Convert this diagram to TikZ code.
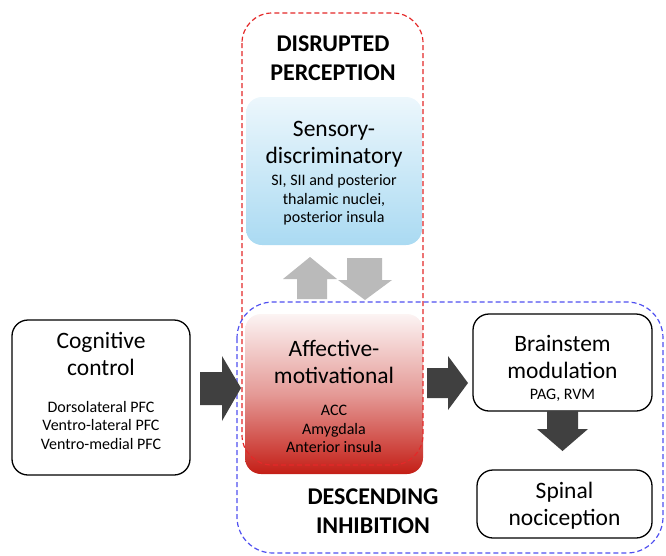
\documentclass[tikz,border=0pt]{standalone}
\usepackage{fontspec}
\setmainfont{Carlito}
\begin{document}
\begin{tikzpicture}[x=1pt,y=-1pt,
  box/.style={draw=black,line width=1.3pt,rounded corners=16pt,fill=white},
  title/.style={align=center,font=\fontsize{23.5}{27}\selectfont},
  detail/.style={align=center,font=\fontsize{16}{18.5}\selectfont},
  head/.style={align=center,font=\fontsize{24}{28.5}\selectfont\bfseries},
  darr/.style={fill=black!75},
  garr/.style={fill=black!27},
  reddash/.style={draw={rgb,255:red,228;green,40;blue,40},line width=1.2pt,dash pattern=on 5pt off 3pt,rounded corners=30pt},
  bluedash/.style={draw={rgb,255:red,80;green,80;blue,240},line width=1.2pt,dash pattern=on 5pt off 3pt,rounded corners=36pt}]
\useasboundingbox (0,0) rectangle (666,555);
\definecolor{lblue}{RGB}{170,218,242}
\definecolor{dred}{RGB}{196,30,22}
% boxes
\node[box,minimum width=178pt,minimum height=155pt] (cog) at (101,397.5) {};
\node[rounded corners=16pt,top color=lblue!22,bottom color=lblue,minimum width=176pt,minimum height=148pt] (sens) at (334,171) {};
\node[rounded corners=16pt,top color=dred!5,bottom color=dred,middle color=dred!45,minimum width=178pt,minimum height=160pt] (aff) at (334,394) {};
\node[box,minimum width=179pt,minimum height=97pt] (brain) at (562.5,362.5) {};
\node[box,minimum width=175pt,minimum height=68pt] (spin) at (564.5,504) {};
% dashed groups
\draw[reddash] (242,13) rectangle (423,465);
\draw[bluedash] (237,302) rectangle (663,553);
% texts
\node[head] (hdis) at (333,58) {DISRUPTED\\PERCEPTION};
\node[head] (hdes) at (373,511) {DESCENDING\\INHIBITION};
\node[title] (tcog) at (101,354) {Cognitive\\control};
\node[detail] (dcog) at (101,425) {Dorsolateral PFC\\Ventro-lateral PFC\\Ventro-medial PFC};
\node[title] (tsens) at (334,144) {Sensory-\\discriminatory};
\node[detail] (dsens) at (334,200) {SI, SII and posterior\\thalamic nuclei,\\posterior insula};
\node[title] (taff) at (334,362) {Affective-\\motivational};
\node[detail] (daff) at (334,429) {ACC\\Amygdala\\Anterior insula};
\node[title] (tbrain) at (562.5,357) {Brainstem\\modulation};
\node[detail] (dbrain) at (562.5,395) {PAG, RVM};
\node[title] (tspin) at (564.5,506) {Spinal\\nociception};
% block arrows
\fill[darr] (200,372) -- (222,372) -- (222,356) -- (241,388) -- (222,421) -- (222,405) -- (200,405) -- cycle;
\fill[darr] (427,368) -- (448,368) -- (448,356) -- (468,383) -- (448,410) -- (448,398) -- (427,398) -- cycle;
\fill[darr] (547,411) -- (578,411) -- (578,429) -- (588,429) -- (562.5,451) -- (537,429) -- (547,429) -- cycle;
\fill[garr] (297,299) -- (297,279) -- (283,279) -- (310,257) -- (337,279) -- (327,279) -- (327,299) -- cycle;
\fill[garr] (347,258) -- (382,258) -- (382,280) -- (392,280) -- (365,300) -- (338,280) -- (347,280) -- cycle;
\end{tikzpicture}
\end{document}
